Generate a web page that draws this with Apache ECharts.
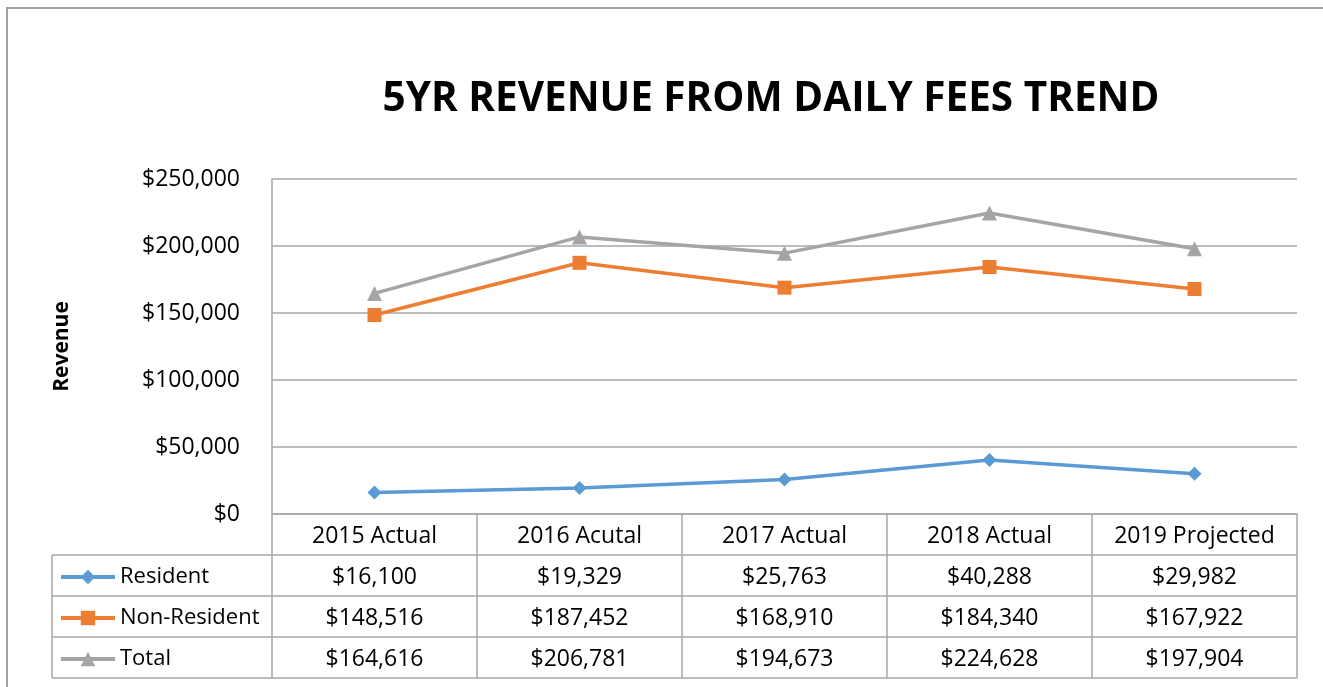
<!DOCTYPE html>
<html>
<head>
<meta charset="utf-8">
<script src="https://cdn.jsdelivr.net/npm/echarts@6/dist/echarts.min.js"></script>
<style>
  html, body { margin: 0; padding: 0; background: #fff; }
  #main { width: 1323px; height: 687px; }
</style>
</head>
<body>
<div id="main"></div>
<script>
// data
var categories = ['2015 Actual', '2016 Acutal', '2017 Actual', '2018 Actual', '2019 Projected']
var resident = [16100, 19329, 25763, 40288, 29982]
var nonResident = [148516, 187452, 168910, 184340, 167922]
var total = [164616, 206781, 194673, 224628, 197904]
var seriesNames = ['Resident', 'Non-Resident', 'Total']

var FONT = '"Open Sans", sans-serif'
var GRID = { left: 272, right: 26, top: 179, bottom: 173 }
var ROW = 41
var TABLE_LEFT = 52
var lineColor = '#a6a6a6'

function money(v) {
  return '$' + v.toLocaleString('en-US')
}

var chartDom = document.getElementById('main')
var myChart = echarts.init(chartDom)

var axisBottom = 687 - GRID.bottom
var plotRight = 1323 - GRID.right

// table grid lines (horizontal) + left column border
var tableLines = []
for (var r = 1; r <= 4; r++) {
  tableLines.push({
    type: 'line',
    shape: { x1: TABLE_LEFT, y1: axisBottom + r * ROW, x2: plotRight, y2: axisBottom + r * ROW },
    style: { stroke: lineColor, lineWidth: 1.5 }
  })
}
tableLines.push({
  type: 'line',
  shape: { x1: TABLE_LEFT, y1: axisBottom + ROW, x2: TABLE_LEFT, y2: axisBottom + 4 * ROW },
  style: { stroke: lineColor, lineWidth: 1.5 }
})
// outer chart border
tableLines.push({
  type: 'rect',
  shape: { x: 7, y: 8, width: 1400, height: 800 },
  style: { fill: null, stroke: '#a0a0a0', lineWidth: 2 }
})

// one legend per table row, so each key sits beside its values
var legends = seriesNames.map(function (name, i) {
  return {
    orient: 'vertical',
    left: 59,
    top: axisBottom + (i + 1) * ROW + 11,
    padding: 0,
    itemGap: 0,
    itemWidth: 54,
    itemHeight: 18,
    lineStyle: { width: 4 },
    data: [name],
    textStyle: { fontFamily: FONT, fontSize: 22, color: '#000' }
  }
})

var option = {
  backgroundColor: '#fff',
  color: ['#5b9bd5', '#ed7d31', '#a5a5a5'],
  title: {
    text: '5YR REVENUE FROM DAILY FEES TREND',
    left: 766,
    textAlign: 'center',
    top: 74,
    textStyle: { fontFamily: FONT, fontSize: 40.5, fontWeight: 'bold', color: '#000' }
  },
  legend: legends,
  grid: GRID,
  xAxis: {
    type: 'category',
    data: categories,
    boundaryGap: true,
    axisLine: { lineStyle: { color: lineColor, width: 1.5 } },
    axisTick: { show: true, length: 4 * ROW, lineStyle: { color: lineColor, width: 1.5 } },
    axisLabel: {
      interval: 0,
      margin: 2,
      color: '#000',
      fontFamily: FONT,
      fontSize: 23,
      lineHeight: ROW,
      formatter: function (value, idx) {
        return [value, money(resident[idx]), money(nonResident[idx]), money(total[idx])].join('\n')
      }
    }
  },
  yAxis: {
    type: 'value',
    min: 0,
    max: 250000,
    interval: 50000,
    name: 'Revenue',
    nameLocation: 'middle',
    nameRotate: 90,
    nameGap: 199,
    nameTextStyle: { fontFamily: FONT, fontSize: 21, fontWeight: 'bold', color: '#000' },
    axisLine: { show: true, lineStyle: { color: lineColor, width: 1.5 } },
    axisTick: { show: false },
    splitLine: { lineStyle: { color: lineColor, width: 1.5 } },
    axisLabel: {
      margin: 32,
      color: '#000',
      fontFamily: FONT,
      fontSize: 23,
      formatter: function (v) { return money(v) }
    }
  },
  series: [
    {
      name: seriesNames[0],
      type: 'line',
      data: resident,
      symbol: 'diamond',
      symbolSize: 14,
      lineStyle: { width: 3.5 },
      itemStyle: { color: '#5b9bd5' }
    },
    {
      name: seriesNames[1],
      type: 'line',
      data: nonResident,
      symbol: 'rect',
      symbolSize: 14,
      lineStyle: { width: 3.5 },
      itemStyle: { color: '#ed7d31' }
    },
    {
      name: seriesNames[2],
      type: 'line',
      data: total,
      symbol: 'triangle',
      symbolSize: 15,
      lineStyle: { width: 3.5 },
      itemStyle: { color: '#a5a5a5' }
    }
  ],
  graphic: tableLines,
  animation: false
}
option && myChart.setOption(option)
</script>
</body>
</html>
